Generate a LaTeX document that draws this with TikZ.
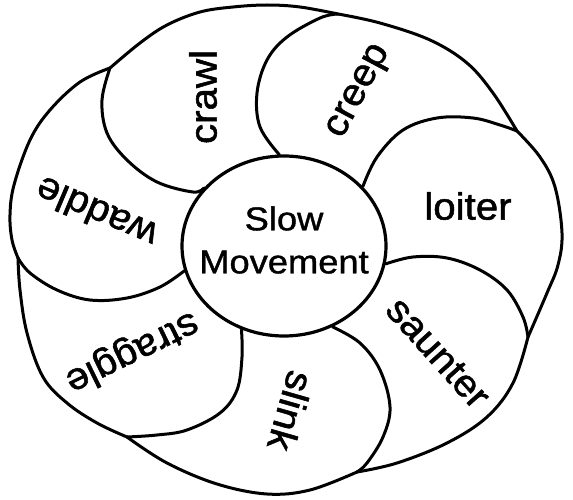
\documentclass[tikz,border=0pt]{standalone}
\usepackage{fontspec}
\setmainfont{Liberation Sans}
\newfontfamily\petalfont{Liberation Sans}[FakeBold=1.4,FakeStretch=1.06]
\newfontfamily\hubfont{Liberation Sans}[FakeBold=1.2,FakeStretch=1.1]
\usepackage{tikz}
\usetikzlibrary{shapes.geometric}
\definecolor{Ink}{RGB}{0,0,0}
\tikzset{
  % Contorni della girandola
  ring/.style={line width=3pt,draw=Ink,line join=round,line cap=round},
  swirl/.style={ring,smooth,tension=0.6},
  % Nodo centrale
  hub/.style={ellipse,draw=Ink,line width=3.2pt,minimum width=204pt,minimum height=180pt,inner sep=0pt},
  hub text/.style={align=center,inner sep=0pt,font=\hubfont\fontsize{33}{43}\selectfont},
  % Etichette dei petali
  petal/.style={inner sep=0pt,font=\petalfont\fontsize{38}{38}\selectfont}
}
\begin{document}
\begin{tikzpicture}[x=1pt,y=-1pt]
  \fill[white] (0,0) rectangle (573,500);
  \useasboundingbox (0,0) rectangle (573,500);
  \node[hub] (core) at (284,246) {};
  \node[hub text] (title) at (284,240) {Slow\\Movement};
  \coordinate (j1) at (110,68);
  \coordinate (j2) at (338,14);
  \coordinate (j3) at (517,131);
  \coordinate (j4) at (528,337);
  \coordinate (j5) at (357,472);
  \coordinate (j6) at (127,437);
  \coordinate (j7) at (18,258);
  \draw[swirl] plot coordinates {(j7) (12,240) (10,215) (14,185) (30,140) (50,110) (80,82) (j1)};
  \draw[swirl] plot coordinates {(j1) (140,43) (167,25) (200,12) (233,7) (267,5) (300,7) (j2)};
  \draw[swirl] plot coordinates {(j2) (380,23) (430,40) (467,63) (493,93) (j3)};
  \draw[swirl] plot coordinates {(j3) (540,157) (555,187) (562,233) (558,265) (547,293) (j4)};
  \draw[swirl] plot coordinates {(j4) (513,383) (487,417) (447,443) (397,463) (j5)};
  \draw[swirl] plot coordinates {(j5) (310,490) (267,494) (217,484) (167,463) (j6)};
  \draw[swirl] plot coordinates {(j6) (97,423) (67,403) (43,377) (27,333) (20,290) (j7)};
  \draw[swirl] plot coordinates {(core.144) (193,192) (157,182) (127,160) (107,133) (102,100) (j1)};
  \draw[swirl] plot coordinates {(core.93) (260,127) (257,93) (267,60) (287,37) (320,18) (j2)};
  \draw[swirl] plot coordinates {(core.37) (377,157) (403,130) (437,118) (473,118) (500,125) (j3)};
  \draw[swirl] plot coordinates {(core.-10) (413,257) (447,258) (480,270) (507,290) (523,317) (j4)};
  \draw[swirl] plot coordinates {(core.-59) (360,343) (380,370) (390,407) (383,437) (367,463) (j5)};
  \draw[swirl] plot coordinates {(core.-117) (242,357) (237,390) (220,413) (187,430) (157,435) (j6)};
  \draw[swirl] plot coordinates {(core.194) (160,287) (127,298) (90,300) (57,290) (30,273) (j7)};
  \node[petal,rotate=90] (crawl) at (203,97) {crawl};
  \node[petal,rotate=62] (creep) at (360,92) {creep};
  \node[petal] (loiter) at (468,206) {loiter};
  \node[petal,rotate=-48] (saunter) at (438,353) {saunter};
  \node[petal,rotate=-106] (slink) at (291,411) {slink};
  \node[petal,rotate=206] (straggle) at (132,352) {straggle};
  \node[petal,rotate=157] (waddle) at (96,213) {waddle};
\end{tikzpicture}
\end{document}
